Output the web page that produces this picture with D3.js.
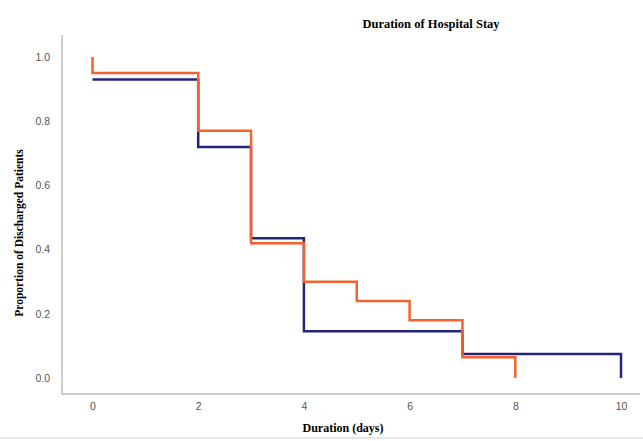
<!DOCTYPE html>
<html>
<head>
<meta charset="utf-8">
<script src="https://cdn.jsdelivr.net/npm/d3@7"></script>
<style>
  body { margin: 0; background: #fff; }
</style>
</head>
<body>
<div id="chart"></div>
<script>
// ---- data
var xTicks = [0, 2, 4, 6, 8, 10];
var yTicks = [0.0, 0.2, 0.4, 0.6, 0.8, 1.0];

// group 1 (navy) step points: day, proportion
var blueDays = [0, 2, 3, 4, 7, 10];
var blueVals = [0.93, 0.72, 0.435, 0.146, 0.075, 0.0];

// group 2 (orange)
var orangeDays = [0, 0, 2, 3, 4, 5, 6, 7, 8];
var orangeVals = [1.0, 0.95, 0.77, 0.42, 0.30, 0.24, 0.18, 0.065, 0.0];

var W = 643, H = 441;

var svg = d3.select("#chart")
    .append("svg")
      .attr("width", W)
      .attr("height", H);

// scales: day 0 -> x 92.5, day 10 -> x 621; prop 0 -> y 378, 1 -> y 57
const xScale = d3.scaleLinear().domain([0, 10]).range([92.5, 621]);
const yScale = d3.scaleLinear().domain([0, 1]).range([378, 57]);

var axisLeft = 62, axisBottom = 394, axisTop = 35, axisRight = 640;

// axis lines
svg.append("line")
    .attr("x1", axisLeft).attr("x2", axisLeft)
    .attr("y1", axisTop).attr("y2", axisBottom)
    .attr("stroke", "#9a9a9a").attr("stroke-width", 1);
svg.append("line")
    .attr("x1", axisLeft).attr("x2", axisRight)
    .attr("y1", axisBottom).attr("y2", axisBottom)
    .attr("stroke", "#9a9a9a").attr("stroke-width", 1);

// tick labels via d3 axes, without tick marks / domain
var yAxis = svg.append("g")
    .attr("transform", "translate(" + (axisLeft - 9) + ",0)")
    .call(d3.axisLeft(yScale).tickValues(yTicks).tickFormat(d3.format(".1f")).tickSize(0));
var xAxis = svg.append("g")
    .attr("transform", "translate(0," + (axisBottom + 6) + ")")
    .call(d3.axisBottom(xScale).tickValues(xTicks).tickFormat(d3.format("d")).tickSize(0));

[yAxis, xAxis].forEach(function(g) {
  g.select(".domain").remove();
  g.selectAll("text")
      .attr("fill", "#555")
      .style("font-family", "'Liberation Sans', Arial, sans-serif")
      .style("font-size", "10.5px");
});

const line = d3.line()
    .x(d => xScale(d.x))
    .y(d => yScale(d.y))
    .curve(d3.curveStepAfter);

var blue = blueDays.map((d, i) => ({x: d, y: blueVals[i]}));
var orange = orangeDays.map((d, i) => ({x: d, y: orangeVals[i]}));

svg.append("path")
    .datum(blue)
    .attr("d", line)
    .attr("fill", "none")
    .attr("stroke", "#23247a")
    .attr("stroke-width", 2.5);

svg.append("path")
    .datum(orange)
    .attr("d", line)
    .attr("fill", "none")
    .attr("stroke", "#f7622c")
    .attr("stroke-width", 2.5);

// titles
var serif = "'Liberation Serif', 'Times New Roman', serif";
svg.append("text")
    .attr("x", 431).attr("y", 28)
    .attr("text-anchor", "middle")
    .style("font-family", serif).style("font-weight", "bold").style("font-size", "12.5px")
    .text("Duration of Hospital Stay");

svg.append("text")
    .attr("x", 343).attr("y", 432)
    .attr("text-anchor", "middle")
    .style("font-family", serif).style("font-weight", "bold").style("font-size", "12px")
    .text("Duration (days)");

svg.append("text")
    .attr("transform", "translate(23,233) rotate(-90)")
    .attr("text-anchor", "middle")
    .style("font-family", serif).style("font-weight", "bold").style("font-size", "11.5px")
    .text("Proportion of Discharged Patients");

// faint bottom border
svg.append("line")
    .attr("x1", 0).attr("x2", W)
    .attr("y1", 438).attr("y2", 438)
    .attr("stroke", "#e6e6e6").attr("stroke-width", 2);
</script>
</body>
</html>
